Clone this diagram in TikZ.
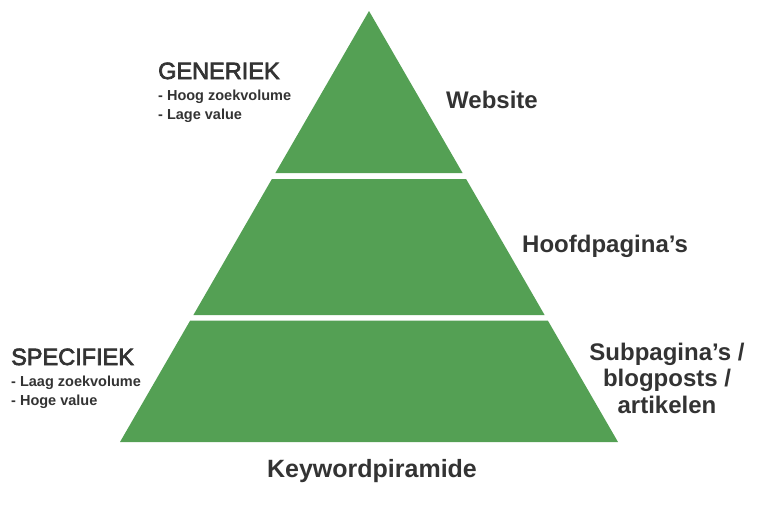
\documentclass[tikz,border=0pt]{standalone}
\usepackage{fontspec}
\setmainfont{Liberation Sans}
\newfontface\headface{Liberation Sans}[FakeBold=3]
\usepackage{xcolor}
\usetikzlibrary{positioning}
\definecolor{pyrgreen}{RGB}{84,160,84}
\definecolor{txtgrey}{RGB}{51,51,51}

\begin{document}
\begin{tikzpicture}[x=1pt,y=-1pt,
    tier/.style={fill=pyrgreen,draw=none},
    lbl/.style={inner sep=0pt,text=txtgrey,font=\bfseries\fontsize{24}{26.5}\selectfont},
    head/.style={inner sep=0pt,anchor=base west,text=txtgrey,font=\headface\fontsize{23.5}{26}\selectfont},
    items/.style={inner sep=0pt,anchor=base west,align=left,text=txtgrey,font=\bfseries\fontsize{14.5}{19}\selectfont}]
    \useasboundingbox (0,0) rectangle (757,514);

    % the three tiers
    \fill[tier] (369,11) -- (462.6,173) -- (275.4,173) -- cycle;
    \fill[tier] (271.9,179) -- (466.1,179) -- (544.6,315) -- (193.4,315) -- cycle;
    \fill[tier] (190.2,320.5) -- (547.8,320.5) -- (618,442) -- (120,442) -- cycle;

    % base anchor of a multi-line node = last line
    \node[head] (gen) at (158,79) {GENERIEK};
    \node[items] (genlist) at (158,119) {- Hoog zoekvolume\\- Lage value};
    \node[head] (spec) at (11,365) {SPECIFIEK};
    \node[items] (speclist) at (11,405) {- Laag zoekvolume\\- Hoge value};

    \node[lbl,anchor=base west] (web) at (446,108) {Website};
    \node[lbl,anchor=base west] (hoofd) at (522,252) {Hoofdpagina’s};
    \node[lbl,anchor=base,align=center] (sub) at (667,413) {Subpagina’s /\\blogposts /\\artikelen};
    \node[lbl,anchor=base,font=\bfseries\fontsize{25}{30}\selectfont] (title) at (372,477) {Keywordpiramide};
\end{tikzpicture}
\end{document}
